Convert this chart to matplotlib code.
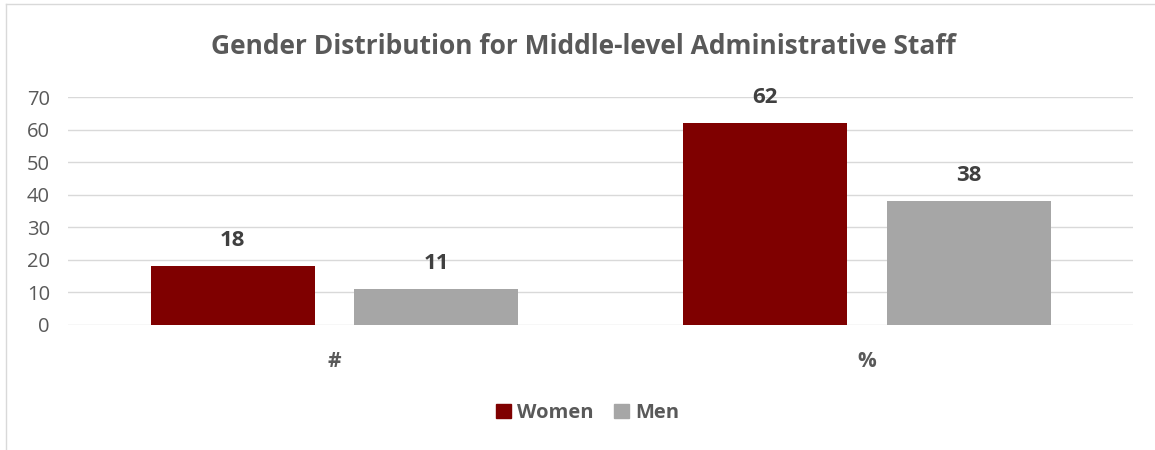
import numpy as np
import matplotlib.pyplot as plt
from matplotlib.lines import Line2D
from matplotlib.patches import Patch

categories = ['#', '%']
women = [18, 62]
men = [11, 38]
yticks = [0, 10, 20, 30, 40, 50, 60, 70]

plt.rcParams['font.family'] = ['Open Sans', 'DejaVu Sans']

fig = plt.figure(figsize=(11.55, 4.5), dpi=100)
ax = fig.add_axes([0.0589, 0.2778, 0.9221, 0.5066])

x = np.arange(len(categories))
w = 0.308
off = 0.191
b1 = ax.bar(x - off, women, w, color='#7f0000', label='Women', zorder=3)
b2 = ax.bar(x + off, men, w, color='#a6a6a6', label='Men', zorder=3)

for bars, vals in ((b1, women), (b2, men)):
    for b, v in zip(bars, vals):
        ax.text(b.get_x() + b.get_width() / 2, v + 7.9, str(v), ha='center', va='center',
                fontsize=16, fontweight='bold', color='#404040')

ax.set_xlim(-0.5, 1.5)
ax.set_ylim(0, 70)
ax.set_yticks(yticks)
ax.set_xticks(x)
ax.set_xticklabels(categories, fontsize=15, fontweight='bold', color='#595959')
ax.tick_params(axis='x', length=0, pad=19)
ax.tick_params(axis='y', length=0, labelsize=14.5, labelcolor='#595959', pad=13)
ax.grid(axis='y', color='#d9d9d9', linewidth=1, zorder=0)
for s in ax.spines.values():
    s.set_visible(False)

fig.text(0.505, 0.896, 'Gender Distribution for Middle-level Administrative Staff',
         ha='center', va='center', fontsize=19, fontweight='bold', color='#595959')

handles = [Patch(color='#7f0000'), Patch(color='#a6a6a6')]
fig.legend(handles, ['Women', 'Men'], loc='center', bbox_to_anchor=(0.509, 0.082), ncol=2,
           frameon=False, handlelength=0.75, handleheight=0.75, handletextpad=0.3,
           columnspacing=1.0, prop={'size': 14.5, 'weight': 'bold'}, labelcolor='#595959')

# light frame around the chart area
fig.add_artist(Line2D([0.005, 0.005], [0, 0.991], color='#d9d9d9', lw=1))
fig.add_artist(Line2D([0.005, 1.0], [0.991, 0.991], color='#d9d9d9', lw=1))

fig.savefig('out.png', dpi=100)
